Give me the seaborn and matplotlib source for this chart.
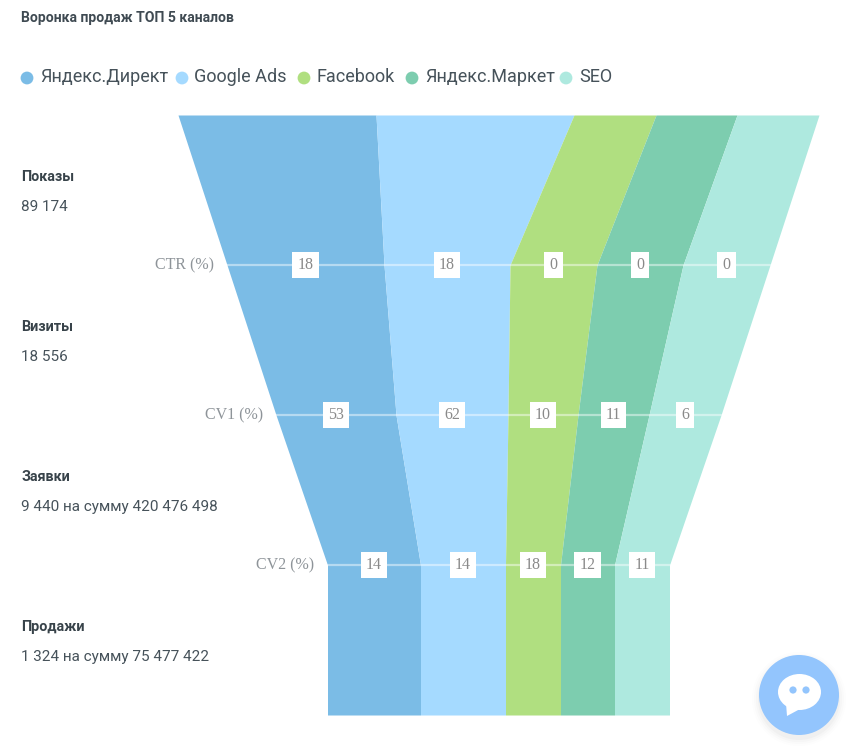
import numpy as np
import pandas as pd
import seaborn as sns
import matplotlib.pyplot as plt
from matplotlib.patches import Circle, Ellipse, Polygon

### DATA
channels = ['Яндекс.Директ', 'Google Ads', 'Facebook', 'Яндекс.Маркет', 'SEO']
stage_names = ['Показы', 'Визиты', 'Заявки', 'Продажи']
stage_values = ['89 174', '18 556', '9 440 на сумму 420 476 498', '1 324 на сумму 75 477 422']
rate_names = ['CTR (%)', 'CV1 (%)', 'CV2 (%)']

# band width of each channel at each funnel level
direct_width = [198, 157, 120, 93, 93]
google_width = [198, 126, 112, 85, 85]
facebook_width = [82, 87, 70, 55, 55]
market_width = [81, 86, 71, 54, 54]
seo_width = [82, 87, 72, 55, 55]

direct_rates = [18, 53, 14]
google_rates = [18, 62, 14]
facebook_rates = [0, 10, 18]
market_rates = [0, 11, 12]
seo_rates = [0, 6, 11]

colors = ['#7BBCE6', '#A5DAFF', '#B0DF80', '#7DCDAF', '#AEE9DF']

### SETUP
W, H = 847, 747
sns.set_theme(style='white')
plt.rcParams['font.family'] = ['Roboto', 'DejaVu Sans']
palette = sns.color_palette(colors)

fig = plt.figure(figsize=(W / 100, H / 100), dpi=100, facecolor='white')

# page axes in pixels, for the text around the funnel
page = fig.add_axes([0, 0, 1, 1])
page.set_xlim(0, W)
page.set_ylim(H, 0)
page.axis('off')

# funnel axes: x is centred on the funnel, y is the funnel level
CENTER, TOP, STEP = 498.5, 115, 150
ax = fig.add_axes([0, 0, 1, 1])
ax.set_xlim(-CENTER, W - CENTER)
ax.set_ylim((H - TOP) / STEP, -TOP / STEP)
ax.axis('off')
ax.patch.set_alpha(0)

### FUNNEL
widths = np.array([direct_width, google_width, facebook_width, market_width, seo_width], dtype=float)
rates = [direct_rates, google_rates, facebook_rates, market_rates, seo_rates]
levels = np.arange(widths.shape[1])
left = -widths.sum(axis=0) / 2
edges = np.vstack([left, left + np.cumsum(widths, axis=0)])

for i in range(len(channels)):
    ax.fill_betweenx(levels, edges[i], edges[i + 1], color=palette[i], linewidth=0)

# white lines between the levels
for j, name in enumerate(rate_names):
    level = j + 1
    line = pd.DataFrame({'x': [edges[0, level], edges[-1, level]], 'y': [level, level]})
    sns.lineplot(data=line, x='x', y='y', color='white', alpha=0.45, linewidth=1.6, ax=ax, legend=False)
    ax.text(edges[0, level] - 13, level, name, ha='right', va='center', color='#8E9499',
            fontsize=11.5, family=['Liberation Serif', 'DejaVu Serif'])
    for i in range(len(channels)):
        mid = (edges[i, level] + edges[i + 1, level]) / 2
        ax.text(mid, level, str(rates[i][j]), ha='center', va='center', color='#8A8A8A',
                fontsize=11.5, family=['Liberation Serif', 'DejaVu Serif'],
                bbox=dict(boxstyle='square,pad=0.32', facecolor='white', edgecolor='none'))

ax.set_xlim(-CENTER, W - CENTER)
ax.set_ylim((H - TOP) / STEP, -TOP / STEP)
ax.axis('off')

### TITLE, LEGEND, STAGES
page.text(21, 18, 'Воронка продаж ТОП 5 каналов', fontsize=10.1, fontweight='bold',
          color='#3F4A52', ha='left', va='center')

legend_dot_x = [27, 182, 304, 412, 566]
legend_text_x = [40, 194, 317, 425, 579]
dots = pd.DataFrame({'x': legend_dot_x, 'y': [78] * 5, 'channel': channels})
sns.scatterplot(data=dots, x='x', y='y', hue='channel', palette=colors, s=85, linewidth=0,
                legend=False, ax=page)
for name, x in zip(channels, legend_text_x):
    page.text(x, 77.5, name, fontsize=13, color='#46525A', ha='left', va='center')

for i, (name, value) in enumerate(zip(stage_names, stage_values)):
    page.text(21, 177 + i * 150, name, fontsize=10.4, fontweight='bold', color='#38434A', ha='left', va='center')
    page.text(21, 207 + i * 150, value, fontsize=11, color='#46525A', ha='left', va='center')

page.set_xlim(0, W)
page.set_ylim(H, 0)
page.axis('off')

### CHAT BUTTON
for r, a in zip([47, 45, 43, 41], [0.015, 0.025, 0.035, 0.05]):
    page.add_patch(Circle((799, 699), r, facecolor='#8A8A8A', edgecolor='none', alpha=a, zorder=5))
page.add_patch(Circle((799, 695), 40, facecolor='#93C5FD', edgecolor='none', zorder=6))
page.add_patch(Ellipse((799.5, 692), 43, 36, facecolor='white', edgecolor='none', zorder=7))
page.add_patch(Polygon([(786, 703), (787, 716), (800, 709)], closed=True, facecolor='white', edgecolor='none', zorder=7))
page.add_patch(Circle((793, 690), 3.6, facecolor='#93C5FD', edgecolor='none', zorder=8))
page.add_patch(Circle((806, 690), 3.6, facecolor='#93C5FD', edgecolor='none', zorder=8))

fig.savefig('out.png', dpi=100, facecolor='white')
